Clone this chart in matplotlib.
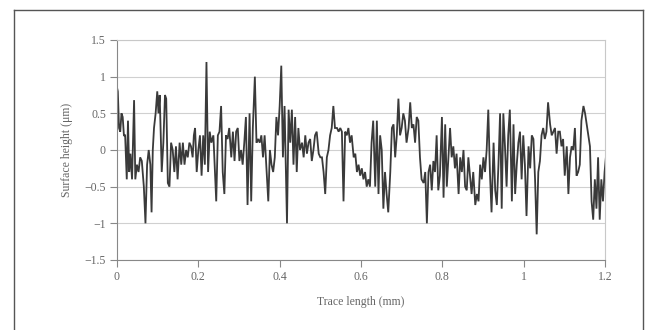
import matplotlib
matplotlib.use("Agg")
import matplotlib.pyplot as plt
from matplotlib.lines import Line2D

# trace position (mm)
trace_x = [
    0.000, 0.002, 0.005, 0.008, 0.011, 0.014, 0.017, 0.020, 0.024, 0.027,
    0.030, 0.033, 0.037, 0.042, 0.045, 0.049, 0.053, 0.057, 0.061, 0.066,
    0.070, 0.074, 0.078, 0.082, 0.085, 0.088, 0.091, 0.095, 0.099, 0.102,
    0.105, 0.110, 0.114, 0.118, 0.121, 0.125, 0.129, 0.133, 0.137, 0.141,
    0.145, 0.149, 0.154, 0.158, 0.162, 0.166, 0.170, 0.174, 0.178, 0.182,
    0.186, 0.189, 0.192, 0.196, 0.200, 0.204, 0.208, 0.212, 0.216, 0.220,
    0.224, 0.228, 0.232, 0.237, 0.241, 0.244, 0.248, 0.252, 0.256, 0.260,
    0.264, 0.268, 0.272, 0.276, 0.281, 0.285, 0.289, 0.293, 0.297, 0.301,
    0.305, 0.309, 0.313, 0.317, 0.321, 0.326, 0.330, 0.334, 0.339, 0.343,
    0.347, 0.351, 0.355, 0.359, 0.363, 0.368, 0.372, 0.376, 0.380, 0.384,
    0.388, 0.392, 0.396, 0.400, 0.404, 0.408, 0.412, 0.418, 0.422, 0.426,
    0.430, 0.434, 0.438, 0.442, 0.446, 0.450, 0.455, 0.459, 0.463, 0.467,
    0.471, 0.475, 0.479, 0.483, 0.487, 0.491, 0.496, 0.500, 0.504, 0.508,
    0.512, 0.516, 0.520, 0.524, 0.528, 0.532, 0.536, 0.541, 0.545, 0.549,
    0.553, 0.557, 0.561, 0.565, 0.569, 0.573, 0.577, 0.582, 0.586, 0.590,
    0.594, 0.598, 0.602, 0.606, 0.610, 0.614, 0.618, 0.622, 0.626, 0.630,
    0.635, 0.639, 0.643, 0.647, 0.651, 0.655, 0.659, 0.663, 0.667, 0.672,
    0.676, 0.680, 0.684, 0.688, 0.692, 0.696, 0.700, 0.704, 0.708, 0.712,
    0.717, 0.721, 0.725, 0.729, 0.733, 0.737, 0.741, 0.745, 0.749, 0.754,
    0.758, 0.762, 0.766, 0.770, 0.774, 0.778, 0.782, 0.786, 0.790, 0.794,
    0.799, 0.803, 0.807, 0.811, 0.815, 0.819, 0.823, 0.827, 0.831, 0.835,
    0.840, 0.844, 0.848, 0.852, 0.856, 0.860, 0.864, 0.868, 0.872, 0.876,
    0.881, 0.885, 0.889, 0.893, 0.897, 0.901, 0.905, 0.909, 0.913, 0.917,
    0.921, 0.926, 0.930, 0.934, 0.938, 0.942, 0.946, 0.950, 0.954, 0.958,
    0.962, 0.966, 0.971, 0.975, 0.979, 0.983, 0.987, 0.991, 0.995, 0.999,
    1.003, 1.007, 1.012, 1.016, 1.020, 1.024, 1.028, 1.032, 1.036, 1.040,
    1.044, 1.048, 1.052, 1.056, 1.060, 1.065, 1.069, 1.073, 1.077, 1.081,
    1.085, 1.089, 1.093, 1.097, 1.101, 1.106, 1.110, 1.114, 1.118, 1.122,
    1.126, 1.130, 1.134, 1.138, 1.142, 1.147, 1.151, 1.155, 1.159, 1.163,
    1.167, 1.171, 1.175, 1.179, 1.183, 1.187, 1.191, 1.195, 1.199, 1.203,
]

# surface height (um)
height = [
    0.85, 0.80, 0.30, 0.25, 0.50, 0.45, 0.20, 0.20, -0.40, 0.40,
    -0.30, -0.05, -0.40, 0.68, -0.40, -0.20, -0.30, -0.10, -0.15, -0.50,
    -1.00, -0.20, 0.00, -0.20, -0.85, 0.00, 0.30, 0.50, 0.80, 0.50,
    0.75, -0.30, 0.10, 0.75, 0.70, -0.45, -0.50, 0.10, 0.00, -0.30,
    0.05, -0.40, 0.10, -0.20, 0.10, -0.20, 0.00, -0.10, 0.10, 0.05,
    -0.10, 0.20, 0.30, -0.30, 0.00, 0.20, -0.35, 0.20, -0.20, 1.20,
    -0.30, 0.25, 0.10, 0.20, -0.30, -0.70, 0.20, 0.25, 0.60, -0.30,
    -0.60, 0.20, 0.15, 0.30, -0.10, 0.25, -0.15, 0.25, 0.30, -0.15,
    0.00, -0.20, 0.10, 0.45, -0.75, 0.50, -0.70, 0.30, 1.00, 0.10,
    0.15, 0.10, 0.20, -0.10, 0.20, -0.30, -0.70, 0.00, -0.20, -0.30,
    -0.10, 0.45, 0.20, 0.60, 1.15, -0.10, 0.60, -1.00, 0.55, 0.10,
    0.55, -0.20, 0.45, -0.30, 0.30, 0.00, 0.10, -0.10, 0.20, -0.05,
    0.10, 0.15, -0.15, 0.00, 0.20, 0.25, -0.05, -0.10, -0.10, -0.30,
    -0.60, -0.10, 0.00, 0.20, 0.30, 0.60, 0.30, 0.30, 0.25, 0.30,
    0.25, -0.70, 0.25, 0.20, 0.30, 0.10, 0.20, -0.10, -0.05, -0.30,
    -0.20, -0.35, -0.25, -0.40, -0.30, -0.50, -0.40, -0.50, 0.10, 0.40,
    -0.50, 0.40, -0.60, 0.20, 0.00, -0.80, -0.30, -0.60, -0.85, -0.30,
    0.30, 0.35, -0.10, 0.20, 0.70, 0.20, 0.30, 0.50, 0.40, 0.10,
    0.30, 0.65, 0.30, 0.35, 0.10, 0.45, 0.40, -0.10, -0.40, -0.45,
    -0.30, -1.00, -0.30, -0.20, -0.55, -0.15, -0.30, 0.20, -0.55, -0.35,
    0.45, -0.65, 0.35, -0.50, -0.10, 0.30, -0.10, 0.05, -0.25, -0.05,
    -0.60, -0.10, -0.30, 0.00, -0.50, -0.55, -0.10, -0.35, -0.60, -0.30,
    -0.75, -0.60, -0.70, -0.20, -0.40, -0.10, -0.30, 0.00, 0.55, -0.30,
    -0.85, 0.10, -0.55, -0.75, -0.20, 0.50, -0.80, 0.50, 0.05, -0.50,
    0.20, 0.55, -0.70, 0.35, -0.60, -0.20, 0.10, 0.25, -0.40, 0.20,
    -0.20, -0.90, 0.05, -0.25, 0.20, 0.15, -0.40, -1.15, -0.30, -0.15,
    0.20, 0.30, 0.15, 0.25, 0.65, 0.35, 0.20, 0.25, 0.30, -0.05,
    0.25, 0.25, 0.05, 0.15, -0.35, 0.05, -0.60, -0.10, 0.05, 0.00,
    0.30, -0.35, -0.30, -0.20, 0.40, 0.60, 0.50, 0.35, 0.20, 0.05,
    -0.70, -0.95, -0.40, -0.80, -0.10, -0.95, -0.40, -0.70, -0.30, -0.05,
]

x_ticks = [0, 0.2, 0.4, 0.6, 0.8, 1, 1.2]
x_tick_labels = ["0", "0.2", "0.4", "0.6", "0.8", "1", "1.2"]
y_ticks = [-1.5, -1, -0.5, 0, 0.5, 1, 1.5]
y_tick_labels = ["\u22121.5", "\u22121", "\u22120.5", "0", "0.5", "1", "1.5"]

plt.rcParams["font.family"] = ["Liberation Serif", "DejaVu Serif"]

fig = plt.figure(figsize=(6.55, 3.30), dpi=100)
fig.patch.set_facecolor("white")
ax = fig.add_axes([117 / 655, 70 / 330, 488 / 655, 220 / 330])

ax.plot(trace_x, height, color="#3a3a3a", lw=1.3, solid_joinstyle="miter")

ax.set_xlim(0, 1.2)
ax.set_ylim(-1.5, 1.5)
ax.set_xticks(x_ticks)
ax.set_xticklabels(x_tick_labels)
ax.set_yticks(y_ticks)
ax.set_yticklabels(y_tick_labels)

for y in y_ticks:
    ax.axhline(y, color="#d0d0d0", lw=0.8, zorder=0)

for side in ["top", "right"]:
    ax.spines[side].set_color("#c8c8c8")
    ax.spines[side].set_linewidth(0.8)
for side in ["left", "bottom"]:
    ax.spines[side].set_color("#888888")
    ax.spines[side].set_linewidth(0.8)

ax.tick_params(axis="both", direction="out", length=5, width=0.8,
               color="#888888", labelcolor="#666666", labelsize=8.5, pad=3)

ax.set_xlabel("Trace length (mm)", fontsize=8.5, color="#666666", labelpad=9)
ax.set_ylabel("Surface height (\u03bcm)", fontsize=8.5, color="#666666", labelpad=8)

# frame around the figure (left, top, right edges)
x0, x1, ytop = 14 / 655, 643 / 655, 1 - 10 / 330
fig.add_artist(Line2D([x0, x0], [0, ytop], color="#555555", lw=1.0))
fig.add_artist(Line2D([x0, x1], [ytop, ytop], color="#555555", lw=1.0))
fig.add_artist(Line2D([x1, x1], [0, ytop], color="#555555", lw=1.0))

fig.savefig("out.png", dpi=100)
